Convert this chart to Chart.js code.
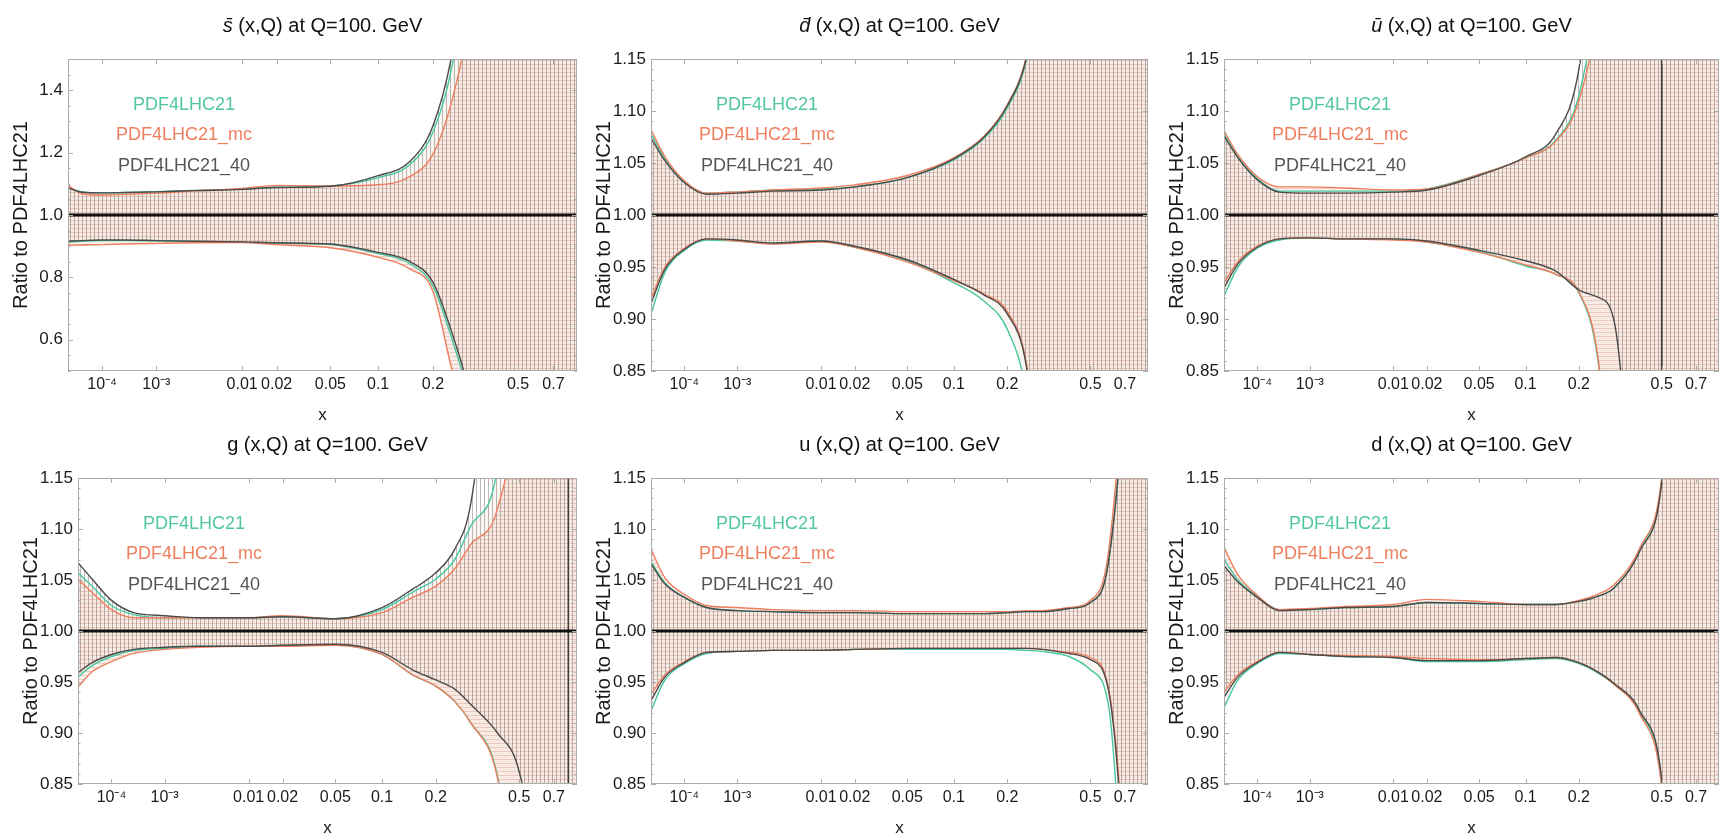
<!DOCTYPE html>
<html>
<head>
<meta charset="utf-8">
<script src="https://cdn.jsdelivr.net/npm/chart.js@4.4.0/dist/chart.umd.min.js"></script>
<style>
  html, body { margin: 0; padding: 0; background: #fff; overflow: hidden; }
  body { width: 1721px; height: 834px; position: relative; }
  canvas { position: absolute; }
</style>
</head>
<body>
<canvas id="c0"></canvas>
<canvas id="c1"></canvas>
<canvas id="c2"></canvas>
<canvas id="c3"></canvas>
<canvas id="c4"></canvas>
<canvas id="c5"></canvas>
<script>
// sampling points in x, shared by every panel
const xGrid = [1e-5, 3e-5, 1e-4, 3e-4, 1e-3, 3e-3, 0.01, 0.02, 0.05, 0.1, 0.15, 0.2, 0.25, 0.3, 0.4, 0.5, 0.6, 0.7, 0.8, 0.9];
const xTickVals = [1e-4, 1e-3, 0.01, 0.02, 0.05, 0.1, 0.2, 0.5, 0.7];
const xTickText = ['10⁻⁴', '10⁻³', '0.01', '0.02', '0.05', '0.1', '0.2', '0.5', '0.7'];
const yTicksWide = [0.6, 0.8, 1.0, 1.2, 1.4];
const yTicksNarrow = [0.85, 0.90, 0.95, 1.00, 1.05, 1.10, 1.15];
const setNames = ['PDF4LHC21', 'PDF4LHC21_mc', 'PDF4LHC21_40'];
const partons = ['s\u0304', 'd\u0304', 'u\u0304', 'g', 'u', 'd'];
const singularX = [null, null, 0.5, 0.8, null, null];

// s-bar
const sbarPdfUp = [1.088, 1.074, 1.071, 1.072, 1.075, 1.079, 1.083, 1.089, 1.093, 1.120, 1.160, 1.265, 1.48, 1.85, 2.6, 3.2, 3.6, 4.0, 4.0, 4.0];
const sbarPdfLo = [0.913, 0.916, 0.918, 0.918, 0.917, 0.915, 0.913, 0.910, 0.905, 0.876, 0.845, 0.772, 0.60, 0.42, 0.0, -0.5, -1.0, -1.0, -1.0, -1.0];
const sbarMcUp = [1.095, 1.068, 1.064, 1.066, 1.070, 1.077, 1.085, 1.095, 1.093, 1.097, 1.122, 1.195, 1.37, 1.62, 2.3, 3.0, 3.5, 4.0, 4.0, 4.0];
const sbarMcLo = [0.903, 0.904, 0.905, 0.907, 0.909, 0.911, 0.912, 0.905, 0.895, 0.864, 0.828, 0.755, 0.50, 0.32, -0.1, -0.6, -1.0, -1.0, -1.0, -1.0];
const sbar40Up = [1.087, 1.073, 1.071, 1.072, 1.074, 1.078, 1.082, 1.088, 1.092, 1.126, 1.170, 1.285, 1.52, 1.90, 2.7, 3.3, 3.7, 4.0, 4.0, 4.0];
const sbar40Lo = [0.916, 0.918, 0.920, 0.920, 0.918, 0.916, 0.914, 0.911, 0.907, 0.880, 0.852, 0.785, 0.62, 0.44, 0.0, -0.5, -1.0, -1.0, -1.0, -1.0];

// d-bar
const dbarPdfUp = [1.078, 1.054, 1.032, 1.021, 1.022, 1.024, 1.025, 1.027, 1.036, 1.053, 1.074, 1.103, 1.148, 1.24, 1.5, 1.8, 2.0, 2.0, 2.0, 2.0];
const dbarPdfLo = [0.905, 0.945, 0.966, 0.976, 0.975, 0.973, 0.975, 0.969, 0.956, 0.935, 0.917, 0.890, 0.830, 0.70, 0.5, 0.3, 0.0, 0.0, 0.0, 0.0];
const dbarMcUp = [1.082, 1.056, 1.033, 1.021, 1.022, 1.024, 1.026, 1.029, 1.038, 1.055, 1.076, 1.106, 1.152, 1.25, 1.5, 1.8, 2.0, 2.0, 2.0, 2.0];
const dbarMcLo = [0.920, 0.950, 0.968, 0.977, 0.975, 0.972, 0.974, 0.969, 0.955, 0.937, 0.924, 0.907, 0.858, 0.72, 0.5, 0.3, 0.0, 0.0, 0.0, 0.0];
const dbar40Up = [1.074, 1.052, 1.031, 1.020, 1.021, 1.023, 1.024, 1.027, 1.036, 1.054, 1.075, 1.105, 1.150, 1.24, 1.5, 1.8, 2.0, 2.0, 2.0, 2.0];
const dbar40Lo = [0.915, 0.948, 0.967, 0.977, 0.976, 0.973, 0.975, 0.970, 0.957, 0.938, 0.923, 0.905, 0.856, 0.72, 0.5, 0.3, 0.0, 0.0, 0.0, 0.0];

// u-bar
const ubarPdfUp = [1.078, 1.056, 1.035, 1.023, 1.023, 1.023, 1.023, 1.025, 1.039, 1.055, 1.072, 1.115, 1.22, 1.40, 2.0, 2.0, 2.0, 2.0, 2.0, 2.0];
const ubarPdfLo = [0.922, 0.950, 0.968, 0.976, 0.978, 0.977, 0.977, 0.974, 0.965, 0.951, 0.943, 0.925, 0.862, 0.70, 0.4, 0.0, 0.0, 0.0, 0.0, 0.0];
const ubarMcUp = [1.081, 1.058, 1.037, 1.027, 1.027, 1.026, 1.024, 1.025, 1.039, 1.055, 1.071, 1.110, 1.20, 1.38, 2.0, 2.0, 2.0, 2.0, 2.0, 2.0];
const ubarMcLo = [0.935, 0.955, 0.970, 0.977, 0.978, 0.977, 0.976, 0.974, 0.964, 0.952, 0.943, 0.926, 0.865, 0.70, 0.4, 0.0, 0.0, 0.0, 0.0, 0.0];
const ubar40Up = [1.076, 1.055, 1.034, 1.022, 1.021, 1.021, 1.022, 1.024, 1.038, 1.056, 1.078, 1.140, 1.30, 1.50, 2.0, 2.0, 2.0, 2.0, 2.0, 2.0];
const ubar40Lo = [0.930, 0.953, 0.969, 0.977, 0.978, 0.977, 0.977, 0.975, 0.966, 0.956, 0.946, 0.928, 0.921, 0.900, 0.6, 0.3, 0.0, 0.0, 0.0, 0.0];

// gluon
const gPdfUp = [1.057, 1.044, 1.025, 1.016, 1.013, 1.013, 1.013, 1.014, 1.012, 1.021, 1.038, 1.051, 1.070, 1.103, 1.16, 1.40, 2.0, 2.0, 2.0, 2.0];
const gPdfLo = [0.955, 0.966, 0.975, 0.981, 0.983, 0.985, 0.985, 0.986, 0.986, 0.977, 0.957, 0.946, 0.931, 0.910, 0.858, 0.70, 0.5, 0.0, 0.0, 0.0];
const gMcUp = [1.051, 1.038, 1.021, 1.013, 1.013, 1.013, 1.013, 1.015, 1.012, 1.018, 1.033, 1.044, 1.061, 1.085, 1.12, 1.25, 1.6, 2.0, 2.0, 2.0];
const gMcLo = [0.945, 0.960, 0.970, 0.978, 0.982, 0.984, 0.985, 0.985, 0.986, 0.977, 0.957, 0.946, 0.931, 0.910, 0.856, 0.70, 0.5, 0.0, 0.0, 0.0];
const g40Up = [1.067, 1.051, 1.030, 1.018, 1.015, 1.013, 1.013, 1.014, 1.012, 1.023, 1.041, 1.057, 1.080, 1.125, 1.35, 1.60, 2.0, 2.0, 2.0, 2.0];
const g40Lo = [0.959, 0.969, 0.977, 0.982, 0.984, 0.985, 0.985, 0.986, 0.987, 0.979, 0.962, 0.952, 0.943, 0.928, 0.900, 0.862, 0.75, 0.5, 0.0, 0.0];

// u quark
const uPdfUp = [1.068, 1.047, 1.033, 1.023, 1.020, 1.019, 1.018, 1.018, 1.017, 1.017, 1.017, 1.018, 1.019, 1.019, 1.022, 1.028, 1.07, 1.25, 1.6, 2.0];
const uPdfLo = [0.922, 0.952, 0.968, 0.978, 0.980, 0.981, 0.981, 0.982, 0.982, 0.982, 0.982, 0.982, 0.981, 0.980, 0.975, 0.962, 0.925, 0.70, 0.4, 0.0];
const uMcUp = [1.080, 1.052, 1.036, 1.025, 1.023, 1.021, 1.020, 1.020, 1.019, 1.019, 1.019, 1.019, 1.020, 1.020, 1.023, 1.030, 1.08, 1.28, 1.6, 2.0];
const uMcLo = [0.938, 0.957, 0.970, 0.979, 0.980, 0.981, 0.981, 0.982, 0.983, 0.983, 0.983, 0.983, 0.983, 0.982, 0.979, 0.974, 0.942, 0.76, 0.4, 0.0];
const u40Up = [1.066, 1.046, 1.033, 1.023, 1.020, 1.019, 1.018, 1.018, 1.017, 1.017, 1.017, 1.018, 1.019, 1.019, 1.022, 1.028, 1.07, 1.25, 1.6, 2.0];
const u40Lo = [0.932, 0.955, 0.969, 0.979, 0.980, 0.981, 0.981, 0.982, 0.983, 0.983, 0.983, 0.983, 0.983, 0.982, 0.978, 0.972, 0.940, 0.75, 0.4, 0.0];

// d quark
const dPdfUp = [1.070, 1.050, 1.034, 1.021, 1.021, 1.023, 1.024, 1.028, 1.027, 1.026, 1.026, 1.029, 1.034, 1.042, 1.080, 1.148, 1.4, 2.0, 2.0, 2.0];
const dPdfLo = [0.925, 0.952, 0.968, 0.978, 0.977, 0.975, 0.974, 0.970, 0.970, 0.972, 0.973, 0.968, 0.959, 0.948, 0.920, 0.852, 0.6, 0.3, 0.0, 0.0];
const dMcUp = [1.082, 1.055, 1.035, 1.021, 1.022, 1.024, 1.026, 1.031, 1.029, 1.026, 1.026, 1.030, 1.036, 1.045, 1.082, 1.150, 1.4, 2.0, 2.0, 2.0];
const dMcLo = [0.940, 0.957, 0.970, 0.979, 0.977, 0.976, 0.975, 0.973, 0.972, 0.973, 0.974, 0.969, 0.960, 0.948, 0.918, 0.848, 0.6, 0.3, 0.0, 0.0];
const d40Up = [1.064, 1.048, 1.033, 1.020, 1.021, 1.023, 1.024, 1.028, 1.027, 1.026, 1.026, 1.029, 1.034, 1.042, 1.079, 1.145, 1.4, 2.0, 2.0, 2.0];
const d40Lo = [0.935, 0.955, 0.969, 0.979, 0.977, 0.975, 0.974, 0.971, 0.971, 0.973, 0.974, 0.969, 0.960, 0.949, 0.921, 0.855, 0.6, 0.3, 0.0, 0.0];

const FAM = '"Liberation Sans", Arial, Helvetica, sans-serif';
const lineCols = ['#46c79f', '#ee7e5f', '#4a4a4a'];
const textCols = ['#52c6a4', '#ef7e5f', '#555555'];

// x axis runs linear in x^0.2
const warp = x => Math.pow(x, 0.2);

function hatch(fill, stroke, dir) {
  const c = document.createElement('canvas');
  c.width = 4; c.height = 4;
  const g = c.getContext('2d');
  if (fill) { g.fillStyle = fill; g.fillRect(0, 0, 4, 4); }
  g.fillStyle = stroke;
  if (dir === 'h') g.fillRect(0, 0, 4, 1); else g.fillRect(0, 0, 1, 4);
  return g.createPattern(c, 'repeat');
}
const bandFills = [
  'rgba(238, 218, 205, 0.25)',
  hatch('rgba(242, 218, 204, 0.40)', 'rgba(214, 140, 124, 0.36)', 'h'),
  hatch(null, 'rgba(100, 86, 80, 0.42)', 'v')
];

// plot rectangles (left, top, right, bottom) on the page
const panels = [
  { name: partons[0], italic: true, ymin: 0.5, ymax: 1.5, yTicks: yTicksWide, minor: 0.05, dec: 1,
    bands: [[sbarPdfUp, sbarPdfLo], [sbarMcUp, sbarMcLo], [sbar40Up, sbar40Lo]], box: [68, 59, 577, 371] },
  { name: partons[1], italic: true, ymin: 0.85, ymax: 1.15, yTicks: yTicksNarrow, minor: 0.01, dec: 2,
    bands: [[dbarPdfUp, dbarPdfLo], [dbarMcUp, dbarMcLo], [dbar40Up, dbar40Lo]], box: [651, 59, 1148, 371] },
  { name: partons[2], italic: true, ymin: 0.85, ymax: 1.15, yTicks: yTicksNarrow, minor: 0.01, dec: 2,
    bands: [[ubarPdfUp, ubarPdfLo], [ubarMcUp, ubarMcLo], [ubar40Up, ubar40Lo]], box: [1224, 59, 1719, 371] },
  { name: partons[3], italic: false, ymin: 0.85, ymax: 1.15, yTicks: yTicksNarrow, minor: 0.01, dec: 2,
    bands: [[gPdfUp, gPdfLo], [gMcUp, gMcLo], [g40Up, g40Lo]], box: [78, 478, 577, 784] },
  { name: partons[4], italic: false, ymin: 0.85, ymax: 1.15, yTicks: yTicksNarrow, minor: 0.01, dec: 2,
    bands: [[uPdfUp, uPdfLo], [uMcUp, uMcLo], [u40Up, u40Lo]], box: [651, 478, 1148, 784] },
  { name: partons[5], italic: false, ymin: 0.85, ymax: 1.15, yTicks: yTicksNarrow, minor: 0.01, dec: 2,
    bands: [[dPdfUp, dPdfLo], [dMcUp, dMcLo], [d40Up, d40Lo]], box: [1224, 478, 1719, 784] }
];

const YW = 62, TOPW = 59, XH = 58, RP = 2;

const pts = arr => xGrid.map((x, i) => ({ x: warp(x), y: arr[i] }));

function decor(p) {
  return {
    id: 'decor',
    afterDatasetsDraw(chart) {
      const { ctx, chartArea: a, scales: { x, y } } = chart;
      ctx.save();
      ctx.strokeStyle = '#ababab';
      ctx.lineWidth = 1;
      ctx.strokeRect(a.left + 0.5, a.top + 0.5, a.width - 1, a.height - 1);
      ctx.beginPath();
      xTickVals.forEach(v => {
        const px = Math.round(x.getPixelForValue(warp(v))) + 0.5;
        ctx.moveTo(px, a.bottom); ctx.lineTo(px, a.bottom - 5);
        ctx.moveTo(px, a.top); ctx.lineTo(px, a.top + 5);
      });
      const n = Math.round((p.ymax - p.ymin) / p.minor);
      for (let i = 0; i <= n; i++) {
        const v = p.ymin + i * p.minor;
        const major = p.yTicks.some(t => Math.abs(t - v) < 1e-6);
        const len = major ? 5 : 2.5;
        const py = Math.round(y.getPixelForValue(v)) + 0.5;
        ctx.moveTo(a.left, py); ctx.lineTo(a.left + len, py);
        ctx.moveTo(a.right, py); ctx.lineTo(a.right - len, py);
      }
      ctx.stroke();
      ctx.restore();
    },
    afterDraw(chart) {
      const { ctx, chartArea: a } = chart;
      ctx.save();
      // panel title, parton name in its own style
      const rest = ' (x,Q) at Q=100. GeV';
      const f1 = (p.italic ? 'italic ' : '') + '20px ' + FAM;
      const f2 = '20px ' + FAM;
      ctx.font = f1; const w1 = ctx.measureText(p.name).width;
      ctx.font = f2; const w2 = ctx.measureText(rest).width;
      let sx = (a.left + a.right) / 2 - (w1 + w2) / 2;
      const ty = a.top - 33;
      ctx.fillStyle = '#111';
      ctx.textBaseline = 'middle';
      ctx.textAlign = 'left';
      ctx.font = f1; ctx.fillText(p.name, sx, ty);
      ctx.font = f2; ctx.fillText(rest, sx + w1, ty);
      // set labels
      ctx.font = '18px ' + FAM;
      ctx.textAlign = 'center';
      setNames.forEach((s, k) => {
        ctx.fillStyle = textCols[k];
        ctx.fillText(s, a.left + 116, a.top + 46 + k * 30.5);
      });
      ctx.restore();
    }
  };
}

panels.forEach((p, i) => {
  const [L, T, R, B] = p.box;
  const cv = document.getElementById('c' + i);
  const w = (R - L) + YW + RP, h = (B - T) + TOPW + XH;
  cv.width = w; cv.height = h;
  cv.style.left = (L - YW) + 'px';
  cv.style.top = (T - TOPW) + 'px';
  cv.style.width = w + 'px';
  cv.style.height = h + 'px';

  const datasets = [];
  p.bands.forEach(([up, lo], k) => {
    datasets.push({ label: setNames[k] + ' up', data: pts(up), borderColor: lineCols[k], borderWidth: 1.4,
      backgroundColor: bandFills[k], fill: '+1', order: 3 - k });
    datasets.push({ label: setNames[k] + ' lo', data: pts(lo), borderColor: lineCols[k], borderWidth: 1.4,
      fill: false, order: 3 - k });
  });
  datasets.push({ label: 'ratio 1', data: [{ x: warp(xGrid[0]), y: 1 }, { x: warp(xGrid[xGrid.length - 1]), y: 1 }],
    borderColor: '#111', borderWidth: 2.8, fill: false, tension: 0, cubicInterpolationMode: 'default', order: -1 });
  if (singularX[i] !== null) {
    datasets.push({ label: 'edge', data: [{ x: warp(singularX[i]), y: -5 }, { x: warp(singularX[i]), y: 5 }],
      borderColor: '#3c3c3c', borderWidth: 1.6, fill: false, tension: 0, cubicInterpolationMode: 'default', order: 0 });
  }

  new Chart(cv, {
    type: 'line',
    data: { datasets },
    options: {
      responsive: false,
      animation: false,
      events: [],
      layout: { padding: { top: TOPW, left: 0, right: RP, bottom: 0 } },
      elements: {
        point: { radius: 0 },
        line: { cubicInterpolationMode: 'monotone' }
      },
      plugins: {
        legend: { display: false },
        tooltip: { enabled: false },
        title: { display: false },
        filler: { drawTime: 'beforeDatasetsDraw' }
      },
      scales: {
        x: {
          type: 'linear',
          min: 0.1,
          max: 0.9715,
          afterBuildTicks: s => { s.ticks = xTickVals.map(v => ({ value: warp(v) })); },
          afterFit: s => { s.height = XH; },
          grid: { display: false, drawTicks: false },
          border: { display: false },
          ticks: {
            autoSkip: false, maxRotation: 0, padding: 4, color: '#1a1a1a',
            font: { family: FAM, size: 16 },
            callback: (v, idx) => xTickText[idx]
          },
          title: { display: true, text: 'x', color: '#1a1a1a', font: { family: FAM, size: 17 }, padding: { top: 0, bottom: 3 } }
        },
        y: {
          type: 'linear',
          min: p.ymin,
          max: p.ymax,
          afterBuildTicks: s => { s.ticks = p.yTicks.map(v => ({ value: v })); },
          afterFit: s => { s.width = YW; },
          grid: { display: false, drawTicks: false },
          border: { display: false },
          ticks: {
            padding: 5, color: '#1a1a1a',
            font: { family: FAM, size: 17 },
            callback: v => v.toFixed(p.dec)
          },
          title: { display: true, text: 'Ratio to PDF4LHC21', color: '#1a1a1a', font: { family: FAM, size: 20 }, padding: { top: 3, bottom: 0 } }
        }
      }
    },
    plugins: [decor(p)]
  });
});
</script>
</body>
</html>
